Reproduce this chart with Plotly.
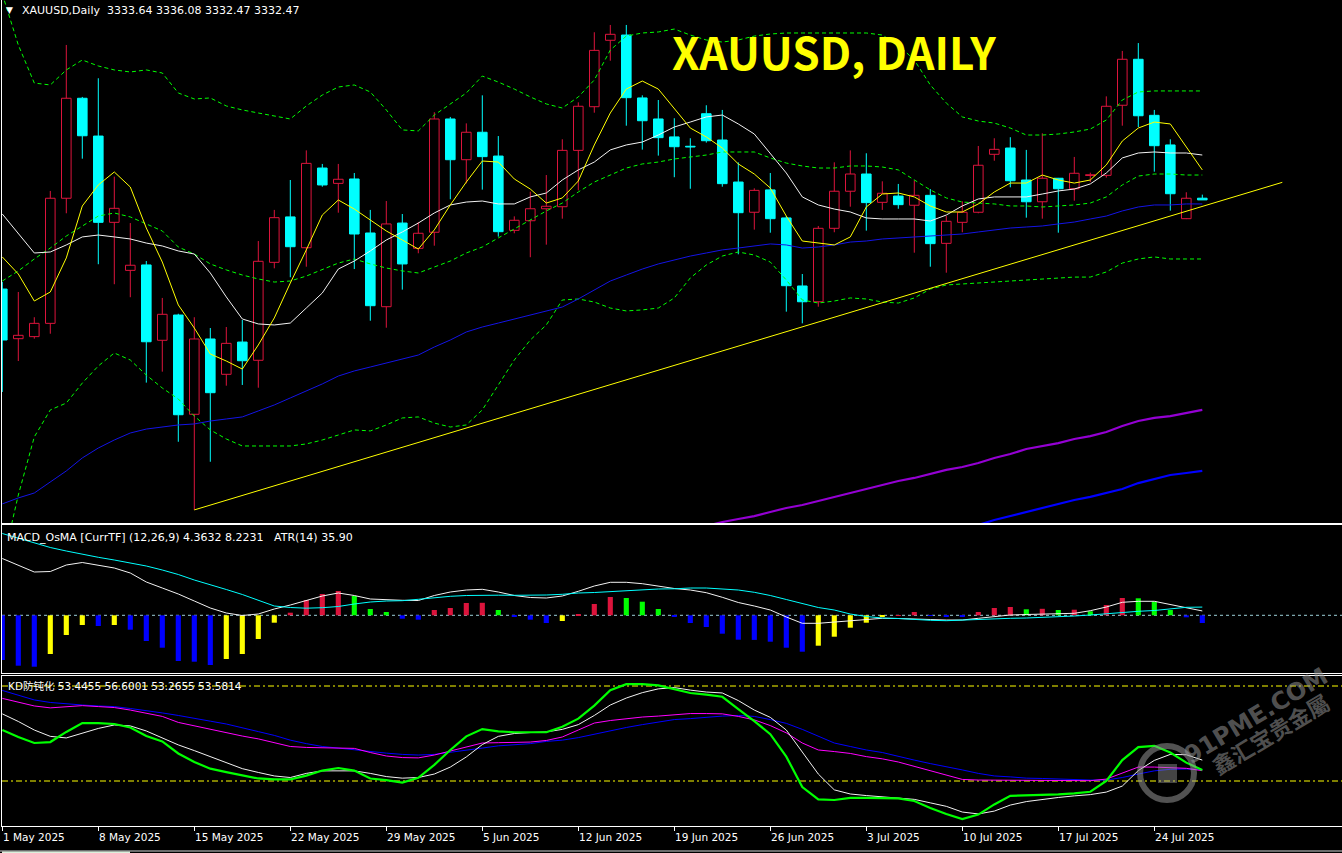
import plotly.graph_objects as go

# ---------------------------------------------------------------- data
week_tick_idx = [0, 6, 12, 18, 24, 30, 36, 42, 48, 54, 60, 66, 72]
week_labels = ["1 May 2025", "8 May 2025", "15 May 2025", "22 May 2025", "29 May 2025",
               "5 Jun 2025", "12 Jun 2025", "19 Jun 2025", "26 Jun 2025", "3 Jul 2025",
               "10 Jul 2025", "17 Jul 2025", "24 Jul 2025"]

opens = [
    3271.4, 3237.4, 3238.8, 3247.9, 3333.6, 3402.1, 3376.2, 3317.1, 3284.2, 3287.9,
    3236.3, 3253.6, 3185.6, 3237.2, 3213.0, 3235.1, 3222.6, 3289.7, 3320.8, 3299.7,
    3354.3, 3343.8, 3346.8, 3309.8, 3259.3, 3316.6, 3299.3, 3310.3, 3387.9, 3360.0,
    3378.8, 3362.5, 3311.6, 3318.2, 3326.4, 3327.8, 3366.4, 3396.3, 3441.8, 3445.4,
    3402.3, 3387.9, 3375.6, 3369.2, 3391.5, 3373.5, 3344.7, 3324.0, 3339.3, 3320.1,
    3273.5, 3262.7, 3313.0, 3338.4, 3350.2, 3330.8, 3335.1, 3328.8, 3335.6, 3302.7,
    3317.1, 3324.0, 3363.7, 3368.0, 3346.1, 3331.2, 3347.3, 3340.1, 3349.2, 3349.3,
    3397.3, 3428.8, 3390.4, 3370.1, 3319.6, 3333.64,
]
highs = [
    3276.2, 3269.4, 3252.1, 3338.6, 3438.6, 3403.0, 3415.8, 3348.4, 3316.6, 3290.6,
    3265.3, 3254.5, 3252.1, 3244.7, 3245.4, 3250.2, 3304.3, 3325.6, 3346.1, 3366.4,
    3357.1, 3357.1, 3350.9, 3325.6, 3331.7, 3322.8, 3317.3, 3392.5, 3389.3, 3384.9,
    3404.1, 3376.2, 3321.2, 3338.1, 3349.5, 3374.0, 3399.3, 3447.3, 3452.3, 3452.3,
    3404.1, 3400.9, 3388.4, 3374.7, 3397.3, 3394.1, 3358.2, 3340.4, 3350.9, 3321.4,
    3281.7, 3314.6, 3358.2, 3366.4, 3364.4, 3345.2, 3343.4, 3345.9, 3339.9, 3321.4,
    3331.5, 3369.4, 3374.7, 3375.4, 3366.7, 3378.1, 3347.5, 3361.9, 3351.1, 3403.4,
    3434.5, 3439.9, 3394.1, 3374.0, 3337.7, 3336.08,
]
lows = [
    3200.9, 3222.1, 3237.4, 3240.8, 3323.3, 3360.7, 3288.4, 3274.7, 3265.8, 3207.3,
    3214.8, 3166.8, 3120.1, 3153.1, 3205.2, 3205.7, 3203.8, 3285.6, 3279.5, 3286.7,
    3341.5, 3323.7, 3285.1, 3249.7, 3244.9, 3271.0, 3295.9, 3301.1, 3332.9, 3343.8,
    3339.5, 3307.3, 3309.6, 3293.2, 3301.8, 3319.6, 3339.0, 3392.2, 3427.8, 3383.3,
    3366.9, 3362.8, 3348.0, 3340.1, 3371.7, 3341.5, 3295.2, 3312.1, 3310.0, 3255.9,
    3247.9, 3259.3, 3310.3, 3327.8, 3311.4, 3325.6, 3326.4, 3296.3, 3286.7, 3282.6,
    3310.3, 3323.3, 3359.3, 3341.1, 3320.3, 3319.6, 3310.0, 3331.9, 3344.7, 3347.7,
    3383.3, 3382.4, 3351.8, 3325.1, 3319.3, 3332.47,
]
closes = [
    3236.5, 3239.7, 3247.9, 3333.6, 3402.1, 3376.4, 3317.1, 3326.7, 3287.7, 3235.3,
    3254.1, 3185.3, 3237.2, 3200.4, 3234.2, 3222.3, 3290.4, 3320.3, 3300.4, 3357.5,
    3342.7, 3346.6, 3309.1, 3260.0, 3316.0, 3288.6, 3309.6, 3387.9, 3360.0, 3378.8,
    3362.1, 3310.7, 3318.5, 3326.4, 3328.1, 3366.4, 3396.6, 3434.9, 3445.9, 3402.5,
    3386.7, 3375.1, 3368.9, 3368.7, 3373.0, 3343.6, 3323.7, 3339.0, 3319.6, 3273.7,
    3262.7, 3313.0, 3338.4, 3350.2, 3330.6, 3337.0, 3329.2, 3335.6, 3302.5, 3317.8,
    3324.0, 3356.2, 3367.1, 3345.6, 3331.2, 3347.3, 3340.1, 3350.7, 3349.7, 3396.6,
    3428.8, 3390.1, 3369.6, 3336.7, 3333.6, 3332.47,
]

ma_fast = [
    3293.4, 3281.7, 3263.2, 3269.4, 3292.7, 3328.3, 3342.7, 3351.6, 3341.3, 3313.2,
    3289.9, 3260.5, 3244.7, 3226.9, 3222.1, 3216.6, 3233.1, 3251.6, 3275.5, 3298.2,
    3322.1, 3332.4, 3326.2, 3318.7, 3311.2, 3305.0, 3298.8, 3311.9, 3329.0, 3344.7,
    3359.1, 3358.4, 3346.8, 3339.9, 3330.3, 3333.8, 3345.4, 3370.1, 3392.0, 3408.4,
    3413.9, 3408.4, 3395.4, 3381.7, 3375.6, 3368.0, 3357.1, 3350.2, 3340.6, 3321.4,
    3304.3, 3302.9, 3301.6, 3307.1, 3327.6, 3336.5, 3337.2, 3334.5, 3328.3, 3324.2,
    3324.2, 3329.7, 3337.9, 3344.0, 3344.0, 3349.5, 3346.1, 3344.0, 3346.1, 3356.4,
    3372.8, 3381.7, 3385.8, 3384.5, 3368.7, 3353.0,
]
ma_mid = [
    3322.8, 3309.1, 3296.1, 3296.8, 3301.6, 3307.1, 3308.4, 3307.1, 3305.7, 3302.9,
    3300.9, 3297.5, 3295.4, 3282.4, 3266.0, 3250.9, 3247.5, 3246.8, 3248.1, 3258.4,
    3268.7, 3285.1, 3290.6, 3297.5, 3305.0, 3310.5, 3316.6, 3323.5, 3329.0, 3331.0,
    3331.7, 3329.7, 3329.7, 3334.5, 3337.2, 3346.1, 3353.0, 3358.4, 3366.7, 3370.1,
    3372.1, 3376.9, 3382.4, 3385.8, 3389.3, 3390.6, 3384.5, 3377.6, 3364.6, 3350.9,
    3334.5, 3329.0, 3326.2, 3324.2, 3320.1, 3319.4, 3319.4, 3319.4, 3318.0, 3322.1,
    3328.3, 3333.1, 3334.5, 3334.5, 3334.5, 3336.5, 3338.6, 3339.9, 3343.4, 3350.9,
    3361.2, 3364.6, 3365.3, 3364.6, 3364.6, 3363.2,
]
ma_long = [
    3124.2, 3128.3, 3131.7, 3139.2, 3146.8, 3155.7, 3162.5, 3168.0, 3172.8, 3175.5,
    3176.9, 3178.3, 3179.0, 3181.0, 3182.4, 3183.8, 3187.9, 3192.0, 3196.8, 3201.6,
    3206.4, 3211.8, 3215.3, 3218.0, 3220.7, 3223.5, 3226.2, 3231.7, 3236.5, 3242.0,
    3245.4, 3248.1, 3250.9, 3253.6, 3256.4, 3259.1, 3264.6, 3270.8, 3276.9, 3281.0,
    3285.1, 3288.6, 3291.3, 3294.0, 3296.1, 3298.2, 3299.5, 3300.9, 3302.3, 3301.6,
    3299.5, 3300.2, 3301.6, 3303.6, 3304.3, 3305.7, 3306.4, 3307.1, 3307.7, 3308.4,
    3309.1, 3310.5, 3311.9, 3313.2, 3313.9, 3314.6, 3316.0, 3317.3, 3319.4, 3321.4,
    3324.9, 3327.6, 3329.0, 3329.0, 3329.7, 3329.7,
]
bb_upper = [
    3473.5, 3438.6, 3412.5, 3411.2, 3421.5, 3428.3, 3424.2, 3421.5, 3420.1, 3421.5,
    3419.4, 3405.7, 3401.6, 3402.3, 3396.8, 3394.1, 3392.0, 3389.9, 3387.9, 3396.8,
    3404.3, 3409.8, 3411.2, 3406.4, 3394.1, 3380.4, 3379.7, 3390.6, 3398.2, 3405.7,
    3417.3, 3413.2, 3408.4, 3403.0, 3398.2, 3395.4, 3403.0, 3414.6, 3435.1, 3444.7,
    3446.8, 3447.5, 3449.5, 3445.4, 3442.0, 3440.6, 3442.0, 3444.7, 3446.1, 3446.8,
    3446.8, 3446.8, 3446.8, 3446.8, 3446.8, 3445.4, 3438.6, 3428.3, 3411.2, 3398.8,
    3389.3, 3386.5, 3385.1, 3381.7, 3376.9, 3376.9, 3377.6, 3379.0, 3381.0, 3387.2,
    3400.9, 3406.4, 3407.1, 3407.1, 3407.1, 3407.1,
]
bb_mid = [
    3276.9, 3283.8, 3292.0, 3299.5, 3307.7, 3314.6, 3321.4, 3323.5, 3320.8, 3316.0,
    3311.2, 3300.2, 3295.4, 3288.6, 3284.5, 3281.0, 3278.3, 3276.2, 3276.9, 3280.3,
    3284.5, 3289.2, 3292.0, 3288.6, 3285.8, 3283.8, 3282.4, 3286.5, 3290.6, 3296.1,
    3300.2, 3306.4, 3312.5, 3318.7, 3324.9, 3330.3, 3337.9, 3344.7, 3349.5, 3354.3,
    3357.1, 3358.4, 3360.5, 3361.9, 3363.2, 3365.3, 3365.3, 3365.3, 3361.2, 3357.7,
    3355.7, 3354.3, 3354.3, 3355.7, 3355.7, 3355.0, 3353.0, 3346.1, 3339.3, 3333.8,
    3331.0, 3330.3, 3329.7, 3328.3, 3328.3, 3327.6, 3328.3, 3329.0, 3330.3, 3334.5,
    3342.7, 3348.8, 3350.2, 3350.2, 3349.5, 3349.5,
]
bb_lower = [
    3082.4, 3130.3, 3170.1, 3188.6, 3193.3, 3207.0, 3218.7, 3227.6, 3222.8, 3212.5,
    3203.6, 3196.1, 3184.4, 3174.9, 3168.7, 3163.9, 3163.9, 3163.9, 3163.9, 3165.3,
    3168.0, 3171.4, 3174.9, 3174.2, 3178.3, 3183.1, 3183.8, 3179.6, 3176.9, 3178.3,
    3188.6, 3205.7, 3222.8, 3236.5, 3246.8, 3263.9, 3264.6, 3262.5, 3258.4, 3256.4,
    3257.1, 3258.4, 3265.3, 3279.0, 3287.9, 3294.0, 3296.8, 3294.7, 3289.9, 3277.6,
    3263.9, 3261.8, 3263.2, 3265.3, 3264.6, 3262.5, 3261.8, 3265.3, 3271.4, 3274.2,
    3274.9, 3275.5, 3276.2, 3276.9, 3277.6, 3278.3, 3279.0, 3279.6, 3279.6, 3283.1,
    3289.2, 3292.0, 3293.4, 3292.0, 3292.0, 3292.0,
]
ma_200 = [None] * 44 + [
    3109.1, 3111.8, 3113.9, 3115.9, 3118.7, 3121.4,
    3123.5, 3126.2, 3129.0, 3131.7, 3134.4, 3137.2, 3139.9, 3142.0, 3144.7, 3147.5,
    3149.5, 3152.2, 3155.7, 3158.4, 3161.8, 3163.9, 3165.9, 3168.7, 3170.7, 3173.5,
    3177.6, 3181.0, 3183.1, 3184.4, 3186.5, 3188.6,
]
ma_365 = [None] * 60 + [
    3107.0, 3109.8, 3113.2, 3115.9, 3118.7, 3121.4, 3124.2, 3126.9, 3129.0, 3131.7,
    3134.4, 3138.5, 3141.3, 3144.0, 3145.4, 3146.8,
]
trend_idx = [12, 80]
trend_price = [3120.1, 3344.5]

macd_line = [
    56.8, 50.3, 43.3, 43.8, 50.3, 52.8, 50.3, 47.3, 42.3, 33.3,
    27.3, 21.3, 14.3, 7.3, 2.3, -0.2, 1.3, 6.3, 10.3, 14.8,
    19.3, 22.3, 19.8, 16.3, 15.3, 15.0, 14.8, 19.8, 23.3, 25.3,
    26.0, 23.3, 19.8, 17.8, 17.3, 19.3, 24.0, 29.3, 33.0, 33.0,
    31.6, 29.3, 26.8, 25.3, 22.6, 18.0, 12.8, 9.3, 5.3, -1.7,
    -8.0, -8.0, -6.7, -5.2, -3.7, -3.0, -3.2, -3.4, -4.2, -4.7,
    -4.7, -3.0, -1.0, 0.3, 0.8, 1.1, 1.3, 2.0, 4.6, 8.3,
    13.0, 14.0, 14.0, 10.8, 7.8, 4.3632,
]
macd_signal = [
    81.8, 77.3, 72.3, 67.8, 64.3, 61.0, 58.0, 55.3, 52.3, 49.3,
    45.3, 40.8, 35.3, 30.8, 25.8, 20.8, 15.3, 9.3, 7.8, 7.1,
    7.6, 8.8, 11.3, 13.3, 14.3, 14.6, 16.0, 17.8, 19.0, 19.8,
    20.3, 20.1, 20.0, 20.0, 20.3, 21.0, 22.3, 22.8, 23.8, 24.6,
    25.3, 26.3, 26.5, 27.3, 27.3, 26.6, 25.3, 23.0, 19.8, 15.8,
    11.8, 7.8, 5.3, 1.3, -1.2, -2.7, -3.2, -4.2, -5.0, -5.4,
    -4.7, -4.0, -3.5, -3.0, -2.7, -2.2, -1.7, -0.7, 0.3, 1.5,
    3.3, 4.0, 4.8, 6.6, 8.0, 8.2231,
]
osma = [
    -44.7, -50.4, -51.4, -38.7, -19.7, -9.7, -10.7, -9.7, -14.4, -25.7,
    -32.4, -45.7, -46.4, -49.7, -43.7, -38.7, -23.7, -7.4, 2.6, 15.3,
    21.3, 24.3, 19.3, 6.3, 3.3, -3.4, -4.4, 5.3, 7.3, 12.3,
    12.5, 5.3, -1.7, -4.4, -7.7, -5.7, 1.0, 11.3, 18.3, 17.3,
    13.6, 6.3, -1.4, -7.7, -11.7, -18.4, -24.4, -24.6, -26.4, -32.4,
    -36.4, -30.4, -21.4, -12.4, -7.4, -1.7, 0.3, 3.3, -0.6, -1.3,
    -1.6, 3.3, 7.3, 8.3, 6.0, 6.5, 5.3, 5.6, 4.0, 10.3,
    17.3, 17.0, 13.6, 5.3, -2.0, -7.7,
]

kd_k = [
    66.1, 63.9, 62.0, 62.3, 65.5, 68.3, 68.3, 68.0, 66.9, 64.2,
    62.5, 58.7, 56.0, 53.9, 52.8, 51.9, 50.8, 50.5, 50.5, 51.7,
    53.3, 54.1, 53.3, 50.8, 50.3, 49.5, 51.0, 55.1, 59.8, 64.1,
    66.4, 65.7, 65.4, 65.4, 65.4, 67.1, 69.7, 73.8, 78.7, 80.6,
    80.6, 80.2, 79.1, 77.8, 77.3, 76.6, 72.7, 68.9, 64.8, 57.7,
    48.1, 44.2, 44.0, 44.7, 44.7, 44.7, 44.5, 43.7, 41.5, 39.6,
    38.0, 39.4, 42.6, 45.3, 45.4, 45.6, 45.8, 46.1, 46.6, 50.0,
    56.6, 60.7, 61.1, 59.0, 55.8, 53.4455,
]
kd_d = [
    71.2, 68.8, 66.1, 64.1, 63.6, 65.0, 66.6, 67.7, 67.4, 65.8,
    63.7, 61.4, 59.6, 57.7, 55.8, 53.9, 52.7, 51.6, 51.1, 52.4,
    53.2, 53.3, 53.2, 52.4, 51.4, 50.9, 51.1, 52.2, 54.4, 57.6,
    61.5, 64.1, 65.0, 65.3, 65.5, 66.3, 67.8, 70.7, 74.0, 76.2,
    77.9, 79.1, 79.5, 78.7, 78.1, 77.8, 75.4, 72.4, 70.1, 66.1,
    59.2, 52.2, 47.2, 45.9, 45.4, 45.0, 44.7, 44.2, 43.1, 42.0,
    40.2, 39.6, 40.5, 42.4, 43.5, 44.2, 44.8, 45.3, 45.7, 46.5,
    48.4, 53.3, 56.5, 58.4, 58.3, 56.6001,
]
kd_slow1 = [
    76.1, 74.8, 73.7, 73.1, 73.4, 73.8, 73.5, 73.2, 72.4, 71.3,
    70.4, 68.5, 67.4, 66.3, 65.2, 64.2, 63.3, 62.2, 60.9, 60.6,
    60.5, 60.4, 60.3, 59.0, 57.9, 57.4, 57.3, 58.2, 59.5, 60.9,
    62.0, 62.1, 62.1, 62.3, 62.8, 63.9, 66.1, 68.3, 69.1, 69.7,
    70.2, 70.5, 70.8, 71.3, 71.3, 71.2, 70.4, 69.3, 67.5, 65.2,
    62.0, 59.8, 59.3, 58.7, 57.7, 57.0, 56.0, 54.6, 53.2, 51.7,
    50.5, 50.3, 50.3, 50.3, 50.3, 50.3, 50.2, 50.1, 50.1, 50.6,
    52.5, 54.4, 54.4, 54.3, 54.0, 53.2655,
]
kd_slow2 = [
    78.6, 77.0, 75.6, 74.8, 74.3, 74.0, 73.7, 73.5, 72.9, 72.3,
    71.5, 70.7, 69.9, 68.9, 68.0, 66.7, 65.6, 64.4, 62.9, 61.8,
    60.9, 60.4, 59.8, 59.3, 58.8, 58.4, 58.2, 58.4, 59.0, 59.8,
    60.4, 61.1, 61.4, 61.8, 62.5, 62.9, 63.7, 64.8, 65.8, 66.9,
    67.8, 68.5, 69.4, 69.7, 70.2, 70.5, 70.7, 70.4, 69.4, 68.2,
    66.3, 64.1, 62.0, 60.9, 59.8, 59.0, 57.7, 56.6, 55.5, 54.6,
    53.5, 52.4, 51.6, 51.3, 50.9, 50.8, 50.6, 50.3, 50.3, 50.3,
    51.1, 52.2, 53.2, 53.7, 53.8, 53.5814,
]
kd_levels = [80, 50]

header_text = "XAUUSD,Daily\u00a0\u00a03333.64 3336.08 3332.47 3332.47"
macd_text = "MACD_OsMA [CurrTF] (12,26,9) 4.3632 8.2231\u00a0\u00a0\u00a0ATR(14) 35.90"
kd_text = "KD防钝化 53.4455 56.6001 53.2655 53.5814"
title_text = "XAUUSD, DAILY"

# ---------------------------------------------------------------- layout constants
W, H = 1342, 853
PLOT_LEFT = 2
MAIN_TOP, MAIN_BOTTOM = 0, 523
MACD_TOP, MACD_BOTTOM = 525, 673
KD_TOP, KD_BOTTOM = 676, 826
BAR_PX = 16.0
FIRST_BAR_PX = 2.3
XMIN = (PLOT_LEFT - FIRST_BAR_PX) / BAR_PX
XMAX = XMIN + (W - PLOT_LEFT) / BAR_PX
MAIN_RANGE = [3111.14, 3469.4]
MACD_RANGE = [-57.7, 90.3]
KD_RANGE = [35.79, 83.16]


def py(p):
    return 1 - p / H


def px(p):
    return p / W


RED = "#dc143c"
CYAN = "#00ffff"
GREEN = "#00ff00"
YELLOW = "#ffff00"
SMALL_FONT = "DejaVu Sans, Noto Sans CJK SC, sans-serif"

n = len(opens)
idx = list(range(n))
fig = go.Figure()


def is_bull(i):
    return closes[i] >= opens[i]


# ------------------------------------------------ main panel: candles
for bull, fill, col in [(True, "black", RED), (False, CYAN, CYAN)]:
    ii = [i for i in idx if is_bull(i) == bull]
    wx, wy = [], []
    for i in ii:
        top, bot = max(opens[i], closes[i]), min(opens[i], closes[i])
        wx += [i, i, None, i, i, None]
        wy += [highs[i], top, None, bot, lows[i], None]
    fig.add_trace(go.Scatter(x=wx, y=wy, mode="lines", line=dict(color=col, width=1),
                             hoverinfo="skip", xaxis="x", yaxis="y"))
    fig.add_trace(go.Bar(x=ii, y=[max(abs(closes[i] - opens[i]), 0.25) for i in ii],
                         base=[min(opens[i], closes[i]) for i in ii], width=0.6,
                         marker=dict(color=fill, line=dict(color=col, width=1)),
                         hoverinfo="skip", xaxis="x", yaxis="y"))

# ------------------------------------------------ main panel: indicator lines
dash = "4px,3px"
for series, color, width, dsh in [
    (bb_upper, GREEN, 1, dash), (bb_mid, GREEN, 1, dash), (bb_lower, GREEN, 1, dash),
    (ma_long, "#1414e6", 1, None), (ma_200, "#9400d3", 2.2, None), (ma_365, "#0000ff", 2.2, None),
    (ma_mid, "#f2f2f2", 1, None), (ma_fast, YELLOW, 1, None),
]:
    fig.add_trace(go.Scatter(x=idx, y=series, mode="lines",
                             line=dict(color=color, width=width, dash=dsh),
                             hoverinfo="skip", xaxis="x", yaxis="y"))
fig.add_trace(go.Scatter(x=trend_idx, y=trend_price, mode="lines", line=dict(color=YELLOW, width=1),
                         hoverinfo="skip", xaxis="x", yaxis="y"))

# ------------------------------------------------ MACD panel
hist_colors = []
for i, v in enumerate(osma):
    prev = osma[i - 1] if i > 0 else v + 1
    if v >= 0:
        hist_colors.append(RED if v > prev else GREEN)
    else:
        hist_colors.append("#0000ff" if v < prev else YELLOW)
fig.add_trace(go.Bar(x=idx, y=osma, width=0.32, marker=dict(color=hist_colors, line=dict(width=0)),
                     hoverinfo="skip", xaxis="x2", yaxis="y2"))
fig.add_trace(go.Scatter(x=idx, y=macd_line, mode="lines", line=dict(color="#f2f2f2", width=1),
                         hoverinfo="skip", xaxis="x2", yaxis="y2"))
fig.add_trace(go.Scatter(x=idx, y=macd_signal, mode="lines", line=dict(color=CYAN, width=1),
                         hoverinfo="skip", xaxis="x2", yaxis="y2"))

# ------------------------------------------------ KD panel
for series, color, width in [(kd_slow2, "#0000ff", 1), (kd_slow1, "#ff00ff", 1),
                             (kd_d, "#f2f2f2", 1), (kd_k, GREEN, 2.2)]:
    fig.add_trace(go.Scatter(x=idx, y=series, mode="lines", line=dict(color=color, width=width),
                             hoverinfo="skip", xaxis="x3", yaxis="y3"))

# ------------------------------------------------ axes
common_x = dict(range=[XMIN, XMAX], showgrid=False, zeroline=False, showticklabels=False,
                domain=[px(PLOT_LEFT), 1], linecolor="white", linewidth=1, fixedrange=True,
                showline=True)
common_y = dict(showgrid=False, zeroline=False, showticklabels=False, showline=True,
                linecolor="white", linewidth=1, fixedrange=True, ticks="")

layout_axes = dict(
    xaxis=dict(common_x, anchor="y", mirror=False, ticks=""),
    xaxis2=dict(common_x, anchor="y2", mirror=True, ticks=""),
    xaxis3=dict(common_x, anchor="y3", mirror=True, ticks="outside", ticklen=4,
                tickwidth=1, tickcolor="white", tickvals=week_tick_idx),
    yaxis=dict(common_y, domain=[py(MAIN_BOTTOM), py(MAIN_TOP)], range=MAIN_RANGE, anchor="x"),
    yaxis2=dict(common_y, domain=[py(MACD_BOTTOM), py(MACD_TOP)], range=MACD_RANGE, anchor="x2"),
    yaxis3=dict(common_y, domain=[py(KD_BOTTOM), py(KD_TOP)], range=KD_RANGE, anchor="x3"),
)

# ------------------------------------------------ shapes
WM = "rgba(150,150,150,0.55)"
shapes = [
    dict(type="line", xref="paper", yref="y2", x0=px(PLOT_LEFT), x1=1, y0=0, y1=0,
         line=dict(color="#9ccfd8", width=1, dash="3px,3px"), layer="below"),
]
for lv in kd_levels:
    shapes.append(dict(type="line", xref="paper", yref="y3", x0=px(PLOT_LEFT), x1=1, y0=lv, y1=lv,
                       line=dict(color=YELLOW, width=1, dash="6px,3px,2px,3px"), layer="below"))
shapes += [
    dict(type="line", xref="paper", yref="paper", x0=0, x1=1, y0=py(851), y1=py(851),
         line=dict(color="#d8d8d8", width=1)),
    dict(type="rect", xref="paper", yref="paper", x0=px(2), x1=px(130), y0=py(853), y1=py(851.5),
         line=dict(width=0), fillcolor="#dcefdc"),
    dict(type="circle", xref="paper", yref="paper", x0=px(1140), x1=px(1194), y0=py(800), y1=py(746),
         line=dict(color=WM, width=6)),
    dict(type="rect", xref="paper", yref="paper", x0=px(1158), x1=px(1177), y0=py(783), y1=py(764),
         line=dict(width=0), fillcolor="rgba(150,150,150,0.45)"),
]

# ------------------------------------------------ annotations
small = dict(family=SMALL_FONT, size=10.5, color="white")
ann = []
for t, lab in zip(week_tick_idx, week_labels):
    ann.append(dict(x=t, y=py(837), xref="x3", yref="paper", text=lab, showarrow=False,
                    xanchor="left", yanchor="middle", xshift=-1, font=small))
ann += [
    dict(x=px(20), y=py(10), xref="paper", yref="paper", text=header_text, showarrow=False,
         xanchor="left", yanchor="middle", font=dict(family=SMALL_FONT, size=11, color="white")),
    dict(x=px(9), y=py(9.5), xref="paper", yref="paper", text="▼", showarrow=False,
         xanchor="center", yanchor="middle", font=dict(family=SMALL_FONT, size=9, color="white")),
    dict(x=px(5), y=py(537), xref="paper", yref="paper", text=macd_text, showarrow=False,
         xanchor="left", yanchor="middle", font=dict(family=SMALL_FONT, size=11, color="white")),
    dict(x=px(6), y=py(686), xref="paper", yref="paper", text=kd_text, showarrow=False,
         xanchor="left", yanchor="middle", font=small),
    dict(x=px(670), y=py(51), xref="paper", yref="paper", text=title_text, showarrow=False,
         xanchor="left", yanchor="middle",
         font=dict(family="Noto Sans CJK SC", size=44, color=YELLOW, weight="bold")),
    dict(x=px(1256), y=py(716), xref="paper", yref="paper", text="91PME.COM", showarrow=False,
         xanchor="center", yanchor="middle", textangle=-31,
         font=dict(family="DejaVu Sans", size=24, color=WM, weight="bold")),
    dict(x=px(1270), y=py(733), xref="paper", yref="paper", text="鑫汇宝贵金屬", showarrow=False,
         xanchor="center", yanchor="middle", textangle=-31,
         font=dict(family="Noto Sans CJK SC", size=22, color=WM, weight="bold")),
]

fig.update_layout(
    width=W, height=H, margin=dict(l=0, r=0, t=0, b=0),
    paper_bgcolor="black", plot_bgcolor="black", showlegend=False,
    barmode="overlay", shapes=shapes, annotations=ann, hovermode=False,
    **layout_axes,
)

fig.write_html("out.html", include_plotlyjs=True, config={"displayModeBar": False},
               post_script="document.body.style.margin='0';document.body.style.overflow='hidden';")
